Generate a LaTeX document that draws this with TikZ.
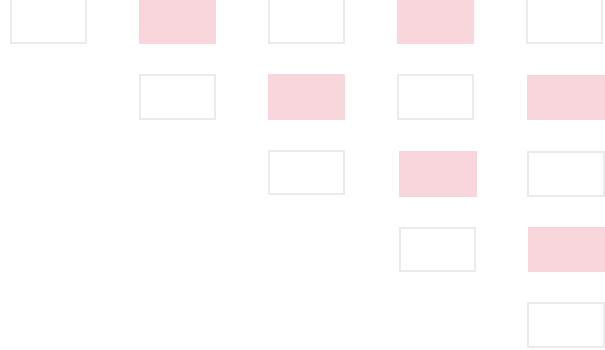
\documentclass[tikz,border=0pt]{standalone}
\usetikzlibrary{positioning}
\definecolor{gridEdge}{HTML}{EBEBEB}
\definecolor{gridPink}{HTML}{F9D6DB}
\tikzset{
 stair/.style={x=1pt,y=-1pt},
 plainbox/.style={rectangle,draw=gridEdge,fill=white,line width=1.6pt,inner sep=0pt,
   minimum width=75.5pt,minimum height=43.5pt},
 pinkbox/.style={rectangle,fill=gridPink,inner sep=0pt,
   minimum width=77.5pt,minimum height=45.5pt}
}

\begin{document}
\begin{tikzpicture}[stair]
 \useasboundingbox (0,0) rectangle (605,350);
 % row 1
 \node[plainbox] (b11) at (48.5,21) {};
 \node[pinkbox]  (b12) at (177.5,21) {};
 \node[plainbox] (b13) at (306.5,21) {};
 \node[pinkbox]  (b14) at (435.5,21) {};
 \node[plainbox] (b15) at (564.5,21) {};
 % row 2
 \node[plainbox] (b22) at (177.5,97) {};
 \node[pinkbox]  (b23) at (306.5,97) {};
 \node[plainbox] (b24) at (435.5,97) {};
 \node[pinkbox]  (b25) at (566,97.5) {};
 % row 3
 \node[plainbox] (b33) at (306.5,172.5) {};
 \node[pinkbox]  (b34) at (438,174) {};
 \node[plainbox] (b35) at (566,174) {};
 % row 4
 \node[plainbox] (b44) at (437.5,249.5) {};
 \node[pinkbox]  (b45) at (566.5,249.5) {};
 % row 5
 \node[plainbox] (b55) at (566,325) {};
\end{tikzpicture}
\end{document}
